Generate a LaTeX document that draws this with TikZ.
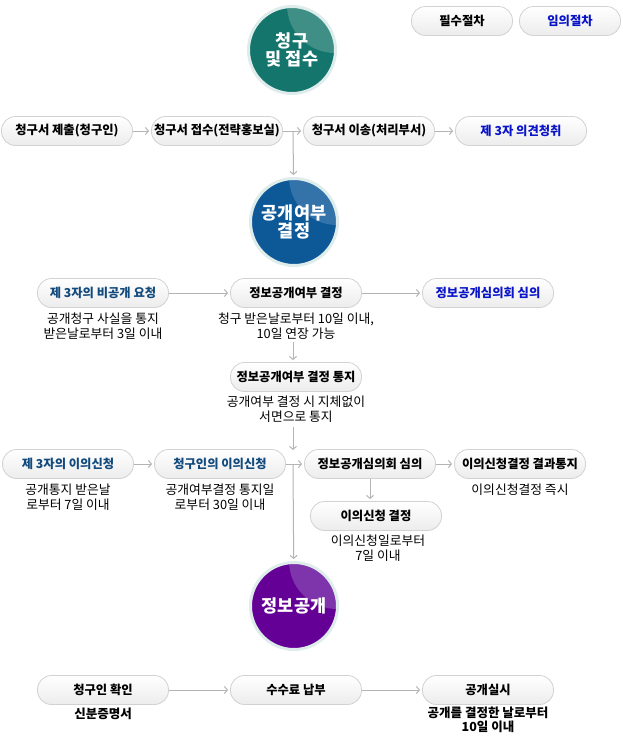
\documentclass[tikz,border=0pt]{standalone}
\usepackage{fontspec}
\setmainfont{Noto Sans CJK KR}
\usetikzlibrary{arrows.meta,shadings}
\definecolor{boxline}{HTML}{D2D2D2}
\definecolor{boxbot}{HTML}{ECECEC}
\definecolor{arrgray}{HTML}{B4B4B4}
\definecolor{optblue}{HTML}{0A14C8}
\definecolor{darkblue}{HTML}{124A7E}
\definecolor{ringcol}{HTML}{DFECEC}
\definecolor{teal1}{HTML}{13756B}
\definecolor{teal2}{HTML}{3F8F86}
\definecolor{blue1}{HTML}{0D5897}
\definecolor{blue2}{HTML}{3473AA}
\definecolor{purp1}{HTML}{650096}
\definecolor{purp2}{HTML}{7E34AA}
\tikzset{
  box/.style={draw=boxline, line width=0.8pt, rounded corners=14pt,
    top color=white, bottom color=boxbot, minimum width=131pt,
    minimum height=29pt, inner sep=0pt,
    font=\fontsize{12.3}{14}\selectfont\bfseries, text=black},
  legbox/.style={box, minimum width=101pt},
  note/.style={align=center, inner sep=0pt, font=\fontsize{12.8}{14.5}\selectfont},
  bnote/.style={note, font=\fontsize{12.5}{14.5}\selectfont\bfseries},
  arr/.style={draw=arrgray, line width=1pt, shorten >=2pt,
    -{Straight Barb[length=3pt,width=7pt]}},
  phase/.style n args={2}{circle, minimum size=87pt, inner sep=0pt,
    fill=#1, draw=ringcol, line width=3pt, text=white, align=center,
    font=\fontsize{17.5}{20}\selectfont\bfseries,
    path picture={\fill[#2] ([shift={(43pt,45pt)}]path picture bounding box.center) circle (48pt);}},
}
\begin{document}
\begin{tikzpicture}[x=1pt,y=-1pt]
\useasboundingbox[fill=white] (0,0) rectangle (623,740);

% legend
\node[legbox] (leg1) at (462,21) {필수절차};
\node[legbox, text=optblue] (leg2) at (570,21) {임의절차};

% phase circles
\node[phase={teal1}{teal2}] (c1) at (292,50) {청구\\[-2pt]및 접수};
\node[phase={blue1}{blue2}] (c2) at (294,222) {공개여부\\[-2pt]결정};
\node[phase={purp1}{purp2}] (c3) at (294,606) {정보공개};

% row 1
\node[box] (r1a) at (67,131) {청구서 제출(청구인)};
\node[box] (r1b) at (217,131) {청구서 접수(전략홍보실)};
\node[box] (r1c) at (369,131) {청구서 이송(처리부서)};
\node[box, text=optblue] (r1d) at (521,131) {제 3자 의견청취};
\coordinate (j1) at (293,131);
\draw[arr] (r1a) -- (r1b);
\draw[arr] (r1b) -- (r1c);
\draw[arr] (r1c) -- (r1d);
\draw[arr] (j1) -- (c2);

% row 2
\node[box, text=darkblue] (r2a) at (103,293) {제 3자의 비공개 요청};
\node[box] (r2b) at (296,293) {정보공개여부 결정};
\node[box, text=optblue] (r2c) at (488,293) {정보공개심의회 심의};
\node[note] (s2a) at (103,326) {공개청구 사실을 통지\\받은날로부터 3일 이내};
\node[note] (s2b) at (296,326) {청구 받은날로부터 10일 이내,\\10일 연장 가능};
\draw[arr] (r2a) -- (r2b);
\draw[arr] (r2b) -- (r2c);
\node[box] (r2d) at (296,377) {정보공개여부 결정 통지};
\node[note] (s2d) at (296,409) {공개여부 결정 시 지체없이\\서면으로 통지};
\draw[arr] ([yshift=-3pt]s2b.south -| j1) -- (r2d.north -| j1);

% row 3
\coordinate (j3) at (293,464);
\node[box, text=darkblue] (r3a) at (68,464) {제 3자의 이의신청};
\node[box, text=darkblue] (r3b) at (220,464) {청구인의 이의신청};
\node[box] (r3c) at (370,464) {정보공개심의회 심의};
\node[box] (r3d) at (520,464) {이의신청결정 결과통지};
\node[note] (s3a) at (68,497) {공개통지 받은날\\로부터 7일 이내};
\node[note] (s3b) at (220,497) {공개여부결정 통지일\\로부터 30일 이내};
\node[note] (s3d) at (520,490) {이의신청결정 즉시};
\node[box] (r3e) at (376,516) {이의신청 결정};
\node[note] (s3e) at (378,548) {이의신청일로부터\\7일 이내};
\draw[arr] ([yshift=-5pt]s2d.south -| j1) -- ([yshift=12pt]j3);
\draw[arr] (r3a) -- (r3b);
\draw[arr] (r3b) -- (r3c);
\draw[arr] (r3c) -- (r3d);
\draw[arr] (r3c.south -| 370,0) -- (r3e.north -| 370,0);
\draw[arr] (j3) -- (c3);

% row 4
\node[box] (r4a) at (103,690) {청구인 확인};
\node[box] (r4b) at (296,690) {수수료 납부};
\node[box] (r4c) at (488,690) {공개실시};
\node[bnote] (s4a) at (103,714) {신분증명서};
\node[bnote] (s4c) at (488,720) {공개를 결정한 날로부터\\10일 이내};
\draw[arr] (r4a) -- (r4b);
\draw[arr] (r4b) -- (r4c);
\end{tikzpicture}
\end{document}
